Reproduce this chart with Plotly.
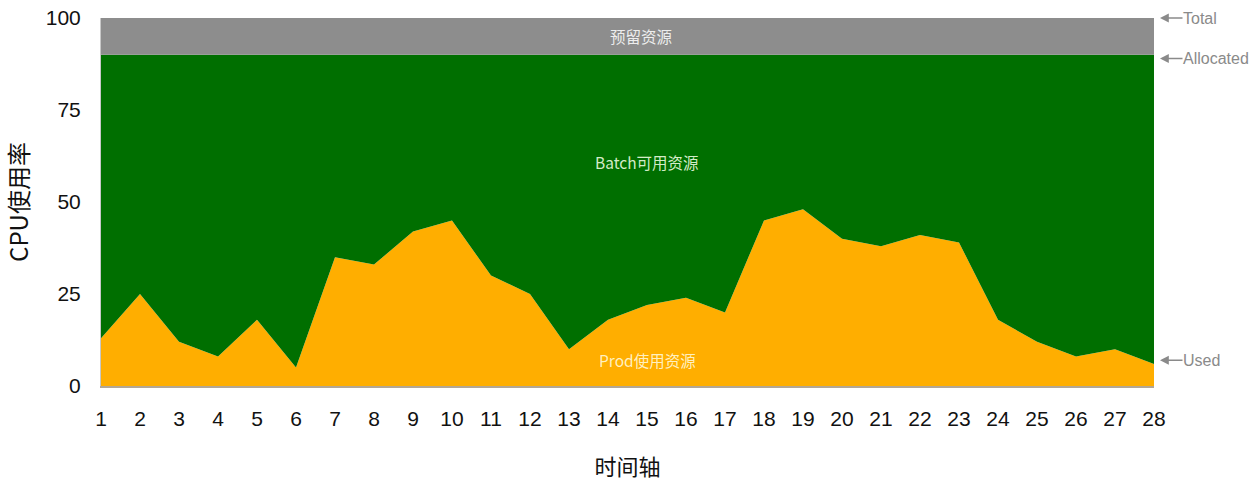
import plotly.graph_objects as go

# Time axis (hours) and CPU usage series
hours = list(range(1, 29))
prod_used = [13, 25, 12, 8, 18, 5, 35, 33, 42, 45, 30, 25, 10, 18,
             22, 24, 20, 45, 48, 40, 38, 41, 39, 18, 12, 8, 10, 6]
allocated = [90] * 28
total = [100] * 28

y_ticks = [0, 25, 50, 75, 100]

area_labels = ["预留资源", "Batch可用资源", "Prod使用资源"]
area_label_x = [14.85, 15, 15]
area_label_y = [95, 61, 7]
area_label_colors = ["rgba(255,255,255,0.85)", "rgba(225,245,215,0.95)", "rgba(255,245,205,0.95)"]

edge_labels = ["Total", "Allocated", "Used"]
edge_label_y = [total[-1], allocated[-1] - 1, prod_used[-1] + 1]

CJK = "Noto Sans CJK SC"
LATIN = "Liberation Sans, Arial, sans-serif"

fig = go.Figure()
fig.add_trace(go.Scatter(x=hours, y=prod_used, mode="lines", line=dict(width=0),
                         fill="tozeroy", fillcolor="#ffae00", hoverinfo="skip"))
fig.add_trace(go.Scatter(x=hours, y=allocated, mode="lines", line=dict(width=0),
                         fill="tonexty", fillcolor="#006f00", hoverinfo="skip"))
fig.add_trace(go.Scatter(x=hours, y=total, mode="lines", line=dict(width=0),
                         fill="tonexty", fillcolor="#8d8d8d", hoverinfo="skip"))

annotations = []
for text, xv, yv, col in zip(area_labels, area_label_x, area_label_y, area_label_colors):
    annotations.append(dict(x=xv, y=yv, xref="x", yref="y", text=text, showarrow=False,
                            font=dict(family=CJK, size=15.5, color=col)))

for text, yv in zip(edge_labels, edge_label_y):
    annotations.append(dict(x=hours[-1], y=yv, xref="x", yref="y", text="",
                            showarrow=True, arrowhead=2, arrowsize=1.1, arrowwidth=1.6,
                            arrowcolor="#8a8a8a", ax=30, ay=0, standoff=6))
    annotations.append(dict(x=hours[-1], y=yv, xref="x", yref="y", text=text,
                            showarrow=False, xanchor="left", xshift=27,
                            font=dict(family=LATIN, size=16, color="#8a8a8a")))

fig.update_layout(
    width=1260, height=493,
    margin=dict(l=101, r=106, t=18, b=107, autoexpand=False),
    paper_bgcolor="white", plot_bgcolor="white",
    showlegend=False,
    annotations=annotations,
    xaxis=dict(range=[1, 28], tickmode="array", tickvals=hours,
               ticktext=[str(h) for h in hours], showgrid=False, zeroline=False,
               automargin=False,
               showline=True, linecolor="#b3a794", linewidth=2,
               ticks="outside", ticklen=13, tickcolor="rgba(0,0,0,0)",
               tickfont=dict(family=LATIN, size=21, color="#111"),
               title=dict(text="时间轴", font=dict(family=CJK, size=22, color="#111"),
                          standoff=30)),
    yaxis=dict(range=[0, 100], tickmode="array", tickvals=y_ticks,
               showgrid=False, zeroline=False, automargin=False,
               showline=True, linecolor="#c8c8c8", linewidth=1,
               ticks="outside", ticklen=15, tickcolor="rgba(0,0,0,0)",
               tickfont=dict(family=LATIN, size=21, color="#111"),
               title=dict(text="CPU使用率", font=dict(family=CJK, size=24, color="#111"),
                          standoff=14)),
)

fig.write_html("out.html")
